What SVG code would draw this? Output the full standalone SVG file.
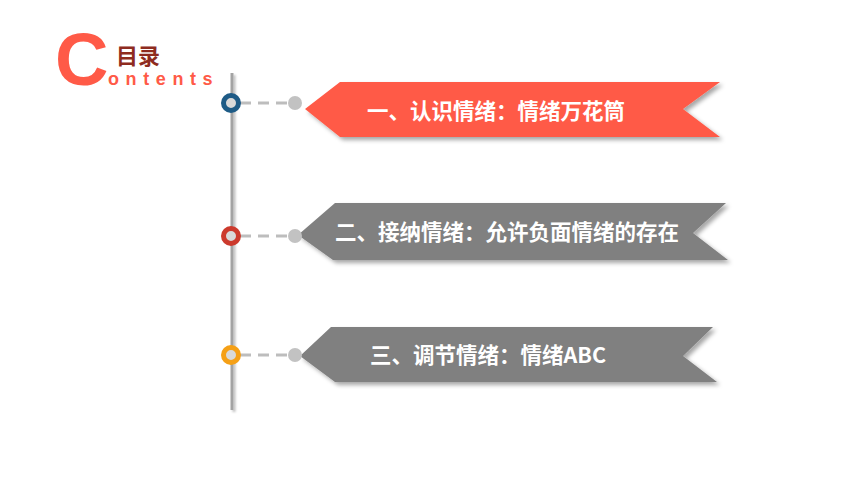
<svg xmlns="http://www.w3.org/2000/svg" width="860" height="485" viewBox="0 0 860 485">
<defs>
<filter id="sh" x="-10%" y="-20%" width="130%" height="160%">
<feDropShadow dx="3" dy="3" stdDeviation="2" flood-color="#000" flood-opacity="0.35"/>
</filter>
<filter id="lsh" x="-200%" y="-5%" width="500%" height="110%">
<feDropShadow dx="2" dy="2" stdDeviation="1" flood-color="#000" flood-opacity="0.25"/>
</filter>
<style>
.bt{font-family:"Noto Sans CJK SC","Liberation Sans",sans-serif;font-weight:bold;font-size:21.5px;fill:#fff;text-anchor:middle}
.dash{stroke:#bdbdbd;stroke-width:3;stroke-dasharray:11 7;fill:none}
.dot{fill:#c2c2c2}
.ring{fill:#d9d9d9;stroke-width:5}
</style>
</defs>
<rect width="860" height="485" fill="#fff"/>
<g id="title">
<text x="55" y="85" font-family="Liberation Sans,Arial,sans-serif" font-weight="bold" font-size="74" fill="#FF5A47">C</text>
<text x="116" y="64" font-family="Noto Sans CJK SC,sans-serif" font-weight="bold" font-size="22" fill="#8E2B20">目录</text>
<text x="108" y="85" font-family="Liberation Sans,Arial,sans-serif" font-weight="bold" font-size="18" letter-spacing="6.6" fill="#FF5A47">ontents</text>
</g>
<g id="connectors">
<rect x="230.5" y="73" width="3" height="337" fill="#a3a3a3" filter="url(#lsh)"/>
<line class="dash" x1="240" y1="103" x2="290" y2="103"/>
<line class="dash" x1="240" y1="236" x2="290" y2="236"/>
<line class="dash" x1="240" y1="355" x2="290" y2="355"/>
</g>
<g id="item1">
<polygon points="305,109 340,82 720,82 683,109 720,137 340,137" fill="#FF5A47" filter="url(#sh)"/>
<circle class="dot" cx="295" cy="103" r="7"/>
<circle class="ring" cx="231" cy="103" r="7.5" stroke="#1E5B86"/>
<text class="bt" x="496" y="119">一、认识情绪：情绪万花筒</text>
</g>
<g id="item2">
<polygon points="298,235 335,203 726,203 693,233 728,260 333,260" fill="#808080" filter="url(#sh)"/>
<circle class="dot" cx="295" cy="236" r="7"/>
<circle class="ring" cx="231" cy="236" r="7.5" stroke="#CC3A2D"/>
<text class="bt" x="507" y="240">二、接纳情绪：允许负面情绪的存在</text>
</g>
<g id="item3">
<polygon points="300,356 331,327 713,327 683,356 717,382 335,382" fill="#808080" filter="url(#sh)"/>
<circle class="dot" cx="295" cy="355" r="7"/>
<circle class="ring" cx="231" cy="355" r="7.5" stroke="#F5A016"/>
<text class="bt" x="488" y="363">三、调节情绪：情绪ABC</text>
</g>
</svg>
